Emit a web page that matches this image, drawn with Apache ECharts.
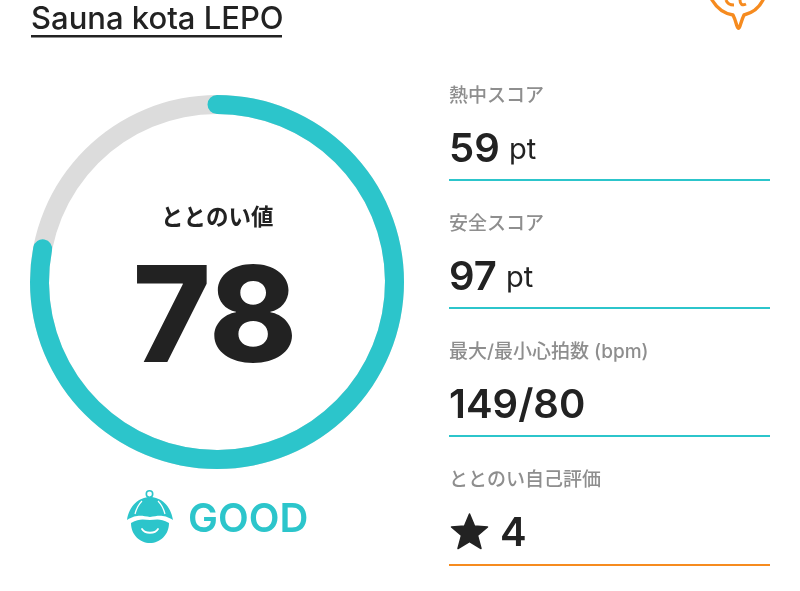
<!doctype html>
<html>
<head>
<meta charset="utf-8">
<title>Sauna kota LEPO</title>
<style>
html, body { margin: 0; padding: 0; background: #fff; }
#main { width: 800px; height: 591px; }
</style>
</head>
<body>
<div id="main"></div>
<script src="https://cdn.jsdelivr.net/npm/echarts@6/dist/echarts.min.js"></script>
<script>
var titleText = 'Sauna kota LEPO';
var gaugeLabel = 'ととのい値';
var gaugeValue = 78;
var gaugeMax = 100;
var statusText = 'GOOD';

var metricLabels = ['熱中スコア', '安全スコア', '最大/最小心拍数 (bpm)', 'ととのい自己評価'];
var metricValues = ['59', '97', '149/80', '4'];
var metricUnits = ['pt', 'pt', '', ''];

var teal = '#2cc5cb';
var dark = '#222222';
var orange = '#f68b1f';
var latin = 'Inter, "Noto Sans CJK JP", sans-serif';
var jp = '"Noto Sans CJK JP", sans-serif';

var chart = echarts.init(document.getElementById('main'));

// right column rows
var rows = [];
var rowTop = [95, 223, 351, 479];
var rowLine = [180, 308, 436, 565];
metricLabels.forEach(function (label, i) {
    rows.push({
        type: 'text', left: 449, top: rowTop[i] - 8,
        style: { text: label, font: '500 19px ' + latin, fill: '#8e8e8e' }
    });
    var x = 449;
    if (i === 3) {
        rows.push({
            type: 'polygon',
            shape: { points: [[469.5, 514], [474.5, 526], [487.5, 527], [477.5, 535.5], [481, 548.5], [469.5, 541.5], [458, 548.5], [461.5, 535.5], [451.5, 527], [464.5, 526]] },
            style: { fill: dark, lineJoin: 'round', lineWidth: 1.5, stroke: dark }
        });
        x = 500;
    }
    rows.push({
        type: 'text', left: x, top: rowTop[i] + 35,
        style: { text: metricValues[i], font: '600 40px ' + latin, fill: dark }
    });
    if (metricUnits[i]) {
        rows.push({
            type: 'text', left: i === 0 ? 509 : 506, top: rowTop[i] + 41,
            style: { text: metricUnits[i], font: '400 29px ' + latin, fill: dark }
        });
    }
    rows.push({
        type: 'rect', shape: { x: 449, y: rowLine[i] - 1, width: 321, height: 2 },
        style: { fill: i === 3 ? orange : teal }
    });
});

function svgUri(w, h, body) {
    return 'data:image/svg+xml;charset=utf-8,' + encodeURIComponent(
        '<svg xmlns="http://www.w3.org/2000/svg" width="' + w + '" height="' + h + '" viewBox="0 0 ' + w + ' ' + h + '">' + body + '</svg>');
}

// sauna hat mascot, origin at (120,485)
var mascotSvg = svgUri(60, 62,
    '<circle cx="29.5" cy="9" r="3.2" fill="none" stroke="' + teal + '" stroke-width="1.6"/>' +
    '<path d="M7 35 C9 21 19 12 30 12 C41 12 51 21 53 35 C43 29 38 31 30 32 C22 31 17 29 7 35 Z" fill="' + teal + '"/>' +
    '<path d="M11 38 C20 33 24 35 30 35 C36 35 40 33 49 38 C49 50 40 58 30 58 C20 58 11 50 11 38 Z" fill="' + teal + '"/>' +
    '<path d="M22 44 C25 49 35 49 38 44" fill="none" stroke="#fff" stroke-width="1.8" stroke-linecap="round"/>' +
    '<path d="M22 16 C18 20 16 25 15 29 M38 16 C42 20 44 25 45 29" fill="none" stroke="#fff" stroke-width="1.2"/>');

// orange pin cut off at the top right, origin at (700,0)
var pinSvg = svgUri(75, 32,
    '<path d="M12 0 C18 10 26 14 33 15 C36 21 36 24 37 26 C38 29 39 29 40 26 C41 23 42 19 44 15 C52 13 59 8 63 0" fill="none" stroke="' + orange + '" stroke-width="3.4" stroke-linecap="round" stroke-linejoin="round"/>' +
    '<path d="M26 0 C27 3 30 5 34 5 M40 0 C40 4 42 6 46 4" fill="none" stroke="' + orange + '" stroke-width="3"/>');

chart.setOption({
    animation: false,
    backgroundColor: '#fff',
    series: [{
        type: 'gauge',
        center: [217, 282],
        radius: 187,
        startAngle: 90,
        endAngle: -270,
        min: 0,
        max: gaugeMax,
        pointer: { show: false },
        axisLine: { roundCap: true, lineStyle: { width: 19, color: [[1, '#dcdcdc']] } },
        progress: { show: true, roundCap: true, width: 19, itemStyle: { color: teal } },
        axisTick: { show: false },
        splitLine: { show: false },
        axisLabel: { show: false },
        title: { show: false },
        detail: {
            show: true,
            offsetCenter: [-2, 40],
            formatter: '{value}',
            fontFamily: latin,
            fontWeight: 800,
            fontSize: 133,
            color: dark
        },
        data: [{ value: gaugeValue }]
    }],
    graphic: [
        { type: 'text', left: 31, top: 4, style: { text: titleText, font: '500 31px ' + latin, fill: dark } },
        { type: 'rect', shape: { x: 31, y: 35, width: 251, height: 2.5 }, style: { fill: dark } },
        { type: 'text', left: 161, top: 205, style: { text: gaugeLabel, font: '700 22.5px ' + jp, fill: dark } },
        { type: 'text', left: 188, top: 500, style: { text: statusText, font: '600 40px ' + latin, fill: teal } },
        { type: 'image', left: 120, top: 485, style: { image: mascotSvg, width: 60, height: 62 } },
        { type: 'image', left: 700, top: 0, style: { image: pinSvg, width: 75, height: 32 } }
    ].concat(rows)
});
</script>
</body>
</html>
